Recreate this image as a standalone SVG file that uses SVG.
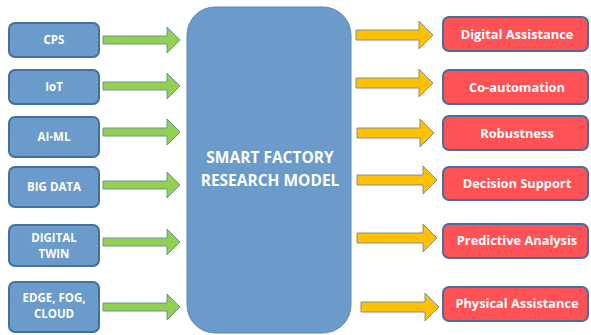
<svg xmlns="http://www.w3.org/2000/svg" width="591" height="335" viewBox="0 0 591 335">
<style>
.in rect{fill:#6A9BCA;stroke:#41719C;stroke-width:2}
.out rect{fill:#FF5257;stroke:#41719C;stroke-width:2}
.ga{fill:#92D050;stroke:#6F8FA8;stroke-width:1}
.ya{fill:#FFC000;stroke:#7F8F9F;stroke-width:1}
text{font-family:"Open Sans","Liberation Sans",sans-serif;font-weight:bold;fill:#FFFFFF;text-anchor:middle}
.in text{font-size:11.5px}
.out text{font-size:12.8px}
</style>
<rect width="591" height="335" fill="#FFFFFF"/>
<g id="connectors">
<path class="ga" d="M103,36 H167 V27 L180,40 L167,53 V44 H103 Z"/>
<path class="ga" d="M103,82 H167 V73 L180,86 L167,99 V90 H103 Z"/>
<path class="ga" d="M103,128 H167 V119 L180,132 L167,145 V136 H103 Z"/>
<path class="ga" d="M103,181 H167 V172 L180,185 L167,198 V189 H103 Z"/>
<path class="ga" d="M103,238 H167 V229 L180,242 L167,255 V246 H103 Z"/>
<path class="ga" d="M103,303 H167 V294 L180,307 L167,320 V311 H103 Z"/>
<path class="ya" d="M356,30 H419 V21 L433,35 L419,49 V40 H356 Z"/>
<path class="ya" d="M356,78 H419 V69 L433,83 L419,97 V88 H356 Z"/>
<path class="ya" d="M357,128 H420 V119 L434,133 L420,147 V138 H357 Z"/>
<path class="ya" d="M357,175 H423 V166 L437,180 L423,194 V185 H357 Z"/>
<path class="ya" d="M357,233 H423 V224 L437,238 L423,252 V243 H357 Z"/>
<path class="ya" d="M361,302 H425 V293 L439,307 L425,321 V312 H361 Z"/>
</g>
<g id="cps" class="in"><rect x="9" y="23" width="90" height="34" rx="6"/><text x="54" y="44">CPS</text></g>
<g id="iot" class="in"><rect x="9" y="70" width="90" height="34" rx="6"/><text x="54" y="91">IoT</text></g>
<g id="aiml" class="in"><rect x="9" y="117" width="90" height="40" rx="6"/><text x="54" y="141">AI-ML</text></g>
<g id="bigdata" class="in"><rect x="9" y="167" width="90" height="40" rx="6"/><text x="54" y="191">BIG DATA</text></g>
<g id="digitaltwin" class="in"><rect x="9" y="225" width="90" height="41" rx="6"/><text x="54" y="242">DIGITAL</text><text x="54" y="258">TWIN</text></g>
<g id="edge" class="in"><rect x="9" y="282" width="90" height="50" rx="6"/><text x="54" y="302">EDGE, FOG,</text><text x="54" y="318">CLOUD</text></g>
<g id="model"><rect x="187" y="7" width="164" height="326" rx="28" fill="#6A9BCA" stroke="#5A88B5" stroke-width="1"/><text x="270" y="163" font-size="15.5px">SMART FACTORY</text><text x="270" y="186" font-size="15.5px">RESEARCH MODEL</text></g>
<g id="digitalassistance" class="out"><rect x="443" y="17" width="145" height="34" rx="6"/><text x="517" y="39">Digital Assistance</text></g>
<g id="coautomation" class="out"><rect x="443" y="70" width="145" height="34" rx="6"/><text x="517" y="92">Co-automation</text></g>
<g id="robustness" class="out"><rect x="443" y="116" width="145" height="34" rx="6"/><text x="517" y="138">Robustness</text></g>
<g id="decisionsupport" class="out"><rect x="443" y="167" width="145" height="33" rx="6"/><text x="517" y="188">Decision Support</text></g>
<g id="predictiveanalysis" class="out"><rect x="443" y="224" width="145" height="34" rx="6"/><text x="517" y="245">Predictive Analysis</text></g>
<g id="physicalassistance" class="out"><rect x="443" y="287" width="145" height="34" rx="6"/><text x="517" y="308">Physical Assistance</text></g>
</svg>
